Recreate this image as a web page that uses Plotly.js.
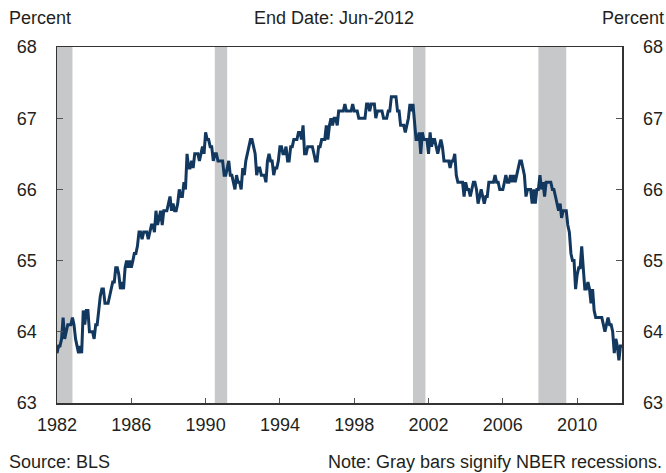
<!DOCTYPE html>
<html>
<head>
<meta charset="utf-8">
<script src="https://cdn.plot.ly/plotly-3.0.1.min.js"></script>
<style>
html,body{margin:0;padding:0;background:#fff;}
#chart{width:666px;height:473px;}
</style>
</head>
<body>
<div id="chart"></div>
<script>
// Civilian labor force participation rate, monthly, Jan-1982 .. Jun-2012 (percent)
const startYear = 1982;
const lfpr1982_1991 = [
  63.7,63.8,63.8,63.9,64.2,63.9,64.0,64.1,64.1,64.1,64.2,64.1,
  63.9,63.8,63.7,63.8,63.7,64.3,64.1,64.3,64.3,64.0,64.0,64.0,
  63.9,64.1,64.1,64.3,64.5,64.6,64.6,64.4,64.4,64.4,64.5,64.6,
  64.7,64.7,64.9,64.9,64.8,64.6,64.7,64.6,64.9,65.0,64.9,65.0,
  64.9,65.0,65.1,65.1,65.2,65.4,65.4,65.3,65.4,65.4,65.4,65.3,
  65.4,65.5,65.5,65.4,65.7,65.5,65.6,65.7,65.5,65.7,65.7,65.7,
  65.8,65.9,65.7,65.8,65.7,65.7,65.8,66.0,65.9,65.9,66.1,66.0,
  66.5,66.3,66.3,66.4,66.3,66.5,66.5,66.5,66.4,66.5,66.6,66.5,
  66.8,66.7,66.7,66.6,66.6,66.4,66.5,66.5,66.4,66.4,66.4,66.4,
  66.2,66.2,66.3,66.4,66.2,66.2,66.1,66.0,66.2,66.1,66.1,66.0
];
const lfpr1992_2001 = [
  66.3,66.2,66.4,66.5,66.6,66.7,66.7,66.6,66.5,66.2,66.3,66.3,
  66.2,66.2,66.2,66.1,66.4,66.5,66.4,66.4,66.2,66.3,66.3,66.4,
  66.6,66.6,66.5,66.5,66.6,66.4,66.4,66.6,66.6,66.7,66.7,66.7,
  66.8,66.8,66.7,66.9,66.5,66.5,66.6,66.6,66.6,66.6,66.5,66.4,
  66.4,66.6,66.6,66.7,66.7,66.7,66.9,66.7,66.9,67.0,66.9,67.0,
  67.0,66.9,67.1,67.1,67.1,67.1,67.2,67.1,67.1,67.1,67.1,67.2,
  67.1,67.1,67.1,67.0,67.0,67.0,67.0,67.0,67.2,67.2,67.1,67.2,
  67.2,67.2,67.0,67.1,67.1,67.1,67.1,67.0,67.0,67.0,67.1,67.1,
  67.3,67.3,67.3,67.3,67.1,67.1,66.9,66.9,66.9,66.8,66.9,67.0,
  67.2,67.1,67.2,66.9,66.7,66.7,66.8,66.5,66.8,66.7,66.7,66.7
];
const lfpr2002_2012 = [
  66.5,66.8,66.6,66.7,66.7,66.6,66.5,66.6,66.7,66.6,66.4,66.4,
  66.4,66.4,66.3,66.4,66.4,66.5,66.2,66.1,66.1,66.1,66.1,65.9,
  66.1,66.0,66.0,65.9,66.0,66.1,66.1,66.0,65.8,65.9,66.0,65.9,
  65.8,65.9,65.9,66.1,66.1,66.1,66.1,66.2,66.1,66.1,66.0,66.0,
  66.0,66.1,66.2,66.1,66.1,66.2,66.1,66.2,66.1,66.2,66.3,66.4,
  66.4,66.3,66.2,65.9,66.0,66.0,66.0,65.8,66.0,65.8,66.0,66.0,
  66.2,66.0,66.1,65.9,66.1,66.1,66.1,66.1,66.0,66.0,65.9,65.8,
  65.7,65.8,65.6,65.7,65.7,65.7,65.5,65.4,65.1,65.0,65.0,64.6,
  64.8,64.9,64.9,65.2,64.9,64.6,64.6,64.7,64.6,64.4,64.6,64.3,
  64.2,64.2,64.2,64.2,64.2,64.1,64.0,64.1,64.2,64.1,64.1,64.0,
  63.7,63.9,63.8,63.6,63.8,63.8
];
const recessionStart = ['1981-07-01','1990-07-01','2001-03-01','2007-12-01'];
const recessionEnd   = ['1982-11-01','1991-03-01','2001-11-01','2009-06-01'];
const xTickYears = [1982,1986,1990,1994,1998,2002,2006,2010];
const yTicks = [63,64,65,66,67,68];

const values = lfpr1982_1991.concat(lfpr1992_2001, lfpr2002_2012);
const dates = values.map((v,i)=>{
  const y = startYear + Math.floor(i/12);
  const m = (i%12)+1;
  return y + '-' + String(m).padStart(2,'0') + '-01';
});

const FONT = 'Liberation Sans, Arial, sans-serif';
const txt = '#231f20';
const TS = 18;

const traces = [
  {x: dates, y: values, type:'scatter', mode:'lines',
   line:{color:'#12385f', width:3}, hoverinfo:'skip', yaxis:'y'},
  {x: dates, y: values, type:'scatter', mode:'lines',
   line:{color:'rgba(0,0,0,0)', width:0}, hoverinfo:'skip', yaxis:'y2', showlegend:false}
];

const shapes = recessionStart.map((s,i)=>({
  type:'rect', xref:'x', yref:'paper', x0:s, x1:recessionEnd[i], y0:0, y1:1,
  fillcolor:'#c7c8ca', line:{width:0}, layer:'below'
}));

const layout = {
  width:666, height:473,
  margin:{l:57, r:44, t:47, b:70},
  paper_bgcolor:'#fff', plot_bgcolor:'#fff',
  showlegend:false,
  font:{family:FONT, size:TS, color:txt},
  xaxis:{
    range:['1982-01-01','2012-06-01'],
    tickvals: xTickYears.map(y=>y+'-01-01'),
    ticktext: xTickYears.map(String),
    ticks:'inside', ticklen:5, tickcolor:'#555', tickwidth:1,
    showline:true, linecolor:'#333', linewidth:1.5, mirror:true,
    showgrid:false, zeroline:false, ticklabelstandoff:5,
    tickfont:{family:FONT, size:TS, color:txt}
  },
  yaxis:{
    range:[63,68], tickvals:yTicks, ticktext:yTicks.map(String),
    ticks:'inside', ticklen:6, tickcolor:'#555', tickwidth:1,
    showline:true, linecolor:'#333', linewidth:1.5,
    showgrid:false, zeroline:false, ticklabelstandoff:15,
    tickfont:{family:FONT, size:TS, color:txt}
  },
  yaxis2:{
    range:[63,68], tickvals:yTicks, ticktext:yTicks.map(String),
    overlaying:'y', side:'right',
    ticks:'inside', ticklen:6, tickcolor:'#555', tickwidth:1,
    showline:true, linecolor:'#333', linewidth:1.5,
    showgrid:false, zeroline:false, ticklabelstandoff:16,
    tickfont:{family:FONT, size:TS, color:txt}
  },
  shapes: shapes,
  annotations:[
    {text:'Percent', xref:'paper', yref:'paper', x:-50/565, y:1, yshift:29, xanchor:'left', yanchor:'middle', showarrow:false, font:{family:FONT,size:TS,color:txt}},
    {text:'Percent', xref:'paper', yref:'paper', x:1+44/565, y:1, yshift:29, xanchor:'right', yanchor:'middle', showarrow:false, font:{family:FONT,size:TS,color:txt}},
    {text:'End Date: Jun-2012', xref:'paper', yref:'paper', x:0.49, y:1, yshift:29, xanchor:'center', yanchor:'middle', showarrow:false, font:{family:FONT,size:TS,color:txt}},
    {text:'Source: BLS', xref:'paper', yref:'paper', x:-50/565, y:0, yshift:-59, xanchor:'left', yanchor:'middle', showarrow:false, font:{family:FONT,size:TS,color:txt}},
    {text:'Note: Gray bars signify NBER recessions.', xref:'paper', yref:'paper', x:1+42/565, y:0, yshift:-59, xanchor:'right', yanchor:'middle', showarrow:false, font:{family:FONT,size:TS,color:txt}}
  ]
};

Plotly.newPlot('chart', traces, layout, {displayModeBar:false, staticPlot:true});
</script>
</body>
</html>
